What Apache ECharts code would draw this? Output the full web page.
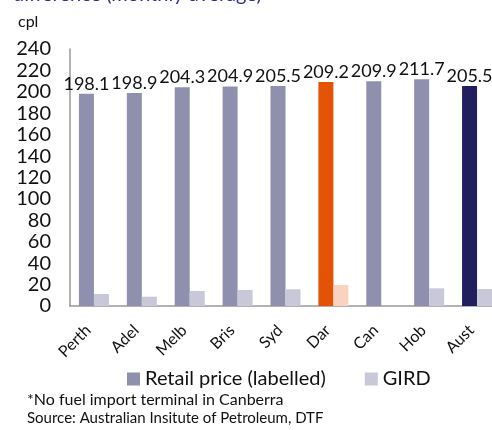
<!DOCTYPE html>
<html><head><meta charset="utf-8">
<script src="https://cdn.jsdelivr.net/npm/echarts@6/dist/echarts.min.js"></script>
<style>html,body{margin:0;padding:0;background:#fff}#c{width:492px;height:430px}</style>
</head><body><div id="c"></div>
<script>
const categories = ['Perth','Adel','Melb','Bris','Syd','Dar','Can','Hob','Aust'];
const retail = [198.1,198.9,204.3,204.9,205.5,209.2,209.9,211.7,205.5];
const gird = [11.2,8.7,14,15,15.6,19.6,null,16.5,15.9];
const yTicks = [0,20,40,60,80,100,120,140,160,180,200,220,240];

const F = 'Lato, "Noto Sans", sans-serif';
const chart = echarts.init(document.getElementById('c'));
const retailColors = {Dar:'#e35205', Aust:'#211f5e'};
const girdColors = {Dar:'#f8d4c0'};
chart.setOption({
  animation:false,
  textStyle:{fontFamily:F},
  grid:{left:70,width:431,top:49,height:257,containLabel:false,outerBoundsMode:'none'},
  legend:{
    left:122, top:364, icon:'rect', itemWidth:13, itemHeight:13, itemGap:39,
    textStyle:{fontSize:20,color:'#111',fontFamily:F},
    data:['Retail price (labelled)','GIRD']
  },
  xAxis:{
    type:'category', data:categories,
    axisLine:{lineStyle:{color:'#999',width:1.5}},
    axisTick:{show:false},
    axisLabel:{rotate:45,fontSize:16,color:'#111',margin:16,padding:[0,8,0,0],fontFamily:F,interval:0}
  },
  yAxis:{
    type:'value', min:0, max:240, interval:20,
    axisLine:{show:true,lineStyle:{color:'#999',width:1.5}},
    axisTick:{show:false}, splitLine:{show:false},
    axisLabel:{fontSize:20,color:'#111',margin:19,fontFamily:F,
      formatter:v=>yTicks.includes(v)?String(v):''}
  },
  series:[
    {name:'Retail price (labelled)',type:'bar',barWidth:15,barGap:'0%',
     itemStyle:{color:'#8f8fae'},
     data:retail.map((v,i)=>({value:v,itemStyle:{color:retailColors[categories[i]]||'#8f8fae'}})),
     label:{show:true,position:'top',distance:1,fontSize:18,color:'#111',fontFamily:F,
       formatter:p=>p.value.toFixed(1)}},
    {name:'GIRD',type:'bar',barWidth:15,
     itemStyle:{color:'#c8c8d9'},
     data:gird.map((v,i)=>({value:v,itemStyle:{color:girdColors[categories[i]]||'#c8c8d9'}}))}
  ],
  graphic:[
    {type:'text',left:13,top:-15,style:{text:'difference (monthly average)',fontSize:20,fill:'#2e3192',fontFamily:F}},
    {type:'text',left:18,top:14,style:{text:'cpl',fontSize:16,fill:'#111',fontFamily:F}},
    {type:'text',left:27,top:392,style:{text:'*No fuel import terminal in Canberra',fontSize:16,fill:'#111',fontFamily:F}},
    {type:'text',left:27,top:411,style:{text:'Source: Australian Insitute of Petroleum, DTF',fontSize:15,fill:'#111',fontFamily:F}}
  ]
});
</script></body></html>
